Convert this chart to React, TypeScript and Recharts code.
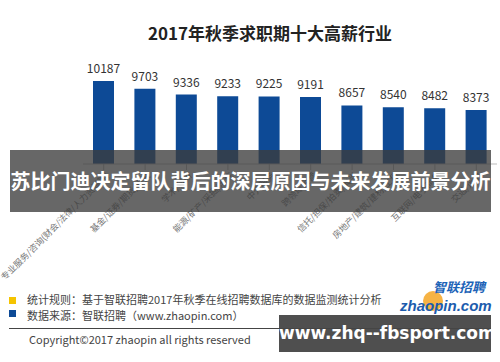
import React from "react";
import { BarChart, Bar, XAxis, YAxis, LabelList } from "recharts";

const industries = [
  "专业服务/咨询(财会/法律/人力资源等)",
  "基金/证券/期货/投资",
  "学术/科研",
  "能源/矿产/采掘/冶炼",
  "中介服务",
  "跨领域经营",
  "信托/担保/拍卖/典当",
  "房地产/建筑/建材/工程",
  "互联网/电子商务",
  "交通/运输",
];
const salaries = [10187, 9703, 9336, 9233, 9225, 9191, 8657, 8540, 8482, 8373];

const data = industries.map((name, i) => ({ name, salary: salaries[i] }));

const FONT = '"Noto Sans CJK SC", "Noto Sans", sans-serif';

const AngledTick = (props: any) => {
  const { x, y, payload } = props;
  return (
    <g transform={`translate(${x + 6},${y + 4})`}>
      <text
        textAnchor="end"
        transform="rotate(-45)"
        fontSize={8.8}
        fill="#777"
        fontFamily={FONT}
      >
        {payload.value}
      </text>
    </g>
  );
};

export default function App() {
  return (
    <div
      style={{
        position: "absolute",
        left: 0,
        top: 0,
        width: 500,
        height: 362,
        background: "#fff",
        fontFamily: FONT,
        overflow: "hidden",
      }}
    >
      <div
        style={{
          position: "absolute",
          top: 20,
          left: 20,
          width: 500,
          textAlign: "center",
          fontSize: 17,
          fontWeight: 700,
          color: "#222",
        }}
      >
        2017年秋季求职期十大高薪行业
      </div>
      <BarChart
        width={500}
        height={362}
        data={data}
        margin={{ top: 68, right: 3, left: 83, bottom: 98 }}
        style={{ position: "absolute", left: 0, top: 0 }}
      >
        <XAxis
          dataKey="name"
          interval={0}
          height={100}
          tick={<AngledTick />}
          tickLine={{ stroke: "#bbb" }}
          axisLine={{ stroke: "#bbb" }}
        />
        <YAxis hide domain={[5000, 11000]} />
        <Bar dataKey="salary" fill="#0d4a96" barSize={21} isAnimationActive={false}>
          <LabelList
            dataKey="salary"
            position="top"
            offset={8}
            fontSize={12}
            fill="#333"
            fontFamily={FONT}
          />
        </Bar>
      </BarChart>

      <div
        style={{
          position: "absolute",
          left: 10,
          top: 150,
          width: 481,
          height: 62,
          background: "rgba(60,60,60,0.78)",
          color: "#fff",
          fontSize: 20,
          fontWeight: 700,
          lineHeight: "62px",
          textAlign: "center",
          whiteSpace: "nowrap",
        }}
      >
        苏比门迪决定留队背后的深层原因与未来发展前景分析
      </div>

      <div style={{ position: "absolute", left: 9, top: 297, width: 7, height: 7, background: "#f5c400" }} />
      <div style={{ position: "absolute", left: 27, top: 293, fontSize: 11, lineHeight: "13px", color: "#444", whiteSpace: "nowrap" }}>
        统计规则：基于智联招聘2017年秋季在线招聘数据库的数据监测统计分析
      </div>
      <div style={{ position: "absolute", left: 9, top: 310, width: 7, height: 7, background: "#0d4a96" }} />
      <div style={{ position: "absolute", left: 27, top: 309, fontSize: 11, lineHeight: "13px", color: "#444", whiteSpace: "nowrap" }}>
        数据来源：智联招聘（www.zhaopin.com）
      </div>
      <div style={{ position: "absolute", left: 9, top: 328, width: 482, height: 1, background: "#444" }} />
      <div style={{ position: "absolute", left: 29, top: 332, fontSize: 11, lineHeight: "14px", color: "#444", whiteSpace: "nowrap" }}>
        Copyright©2017 zhaopin all rights reserved
      </div>

      <div style={{ position: "absolute", left: 423, top: 291, width: 20, height: 20, borderRadius: 10, background: "#f5a623", opacity: 0.85 }} />
      <div style={{ position: "absolute", left: 433, top: 279, fontSize: 13, lineHeight: "15px", fontStyle: "italic", fontWeight: 700, color: "#1c63b7", whiteSpace: "nowrap" }}>
        智联招聘
      </div>
      <div style={{ position: "absolute", left: 400, top: 298, fontSize: 15, lineHeight: "16px", fontStyle: "italic", fontWeight: 700, color: "#1c5cad", whiteSpace: "nowrap", fontFamily: "Arial, 'Liberation Sans', sans-serif" }}>
        zhaopin.com
      </div>

      <div
        style={{
          position: "absolute",
          left: 279,
          top: 315,
          width: 212,
          height: 37,
          background: "rgba(70,70,70,0.95)",
          color: "#fff",
          fontSize: 17,
          fontWeight: 700,
          lineHeight: "37px",
          textAlign: "center",
          fontFamily: "'DejaVu Sans', sans-serif",
          whiteSpace: "nowrap",
        }}
      >
        www.zhq--fbsport.com
      </div>
    </div>
  );
}
